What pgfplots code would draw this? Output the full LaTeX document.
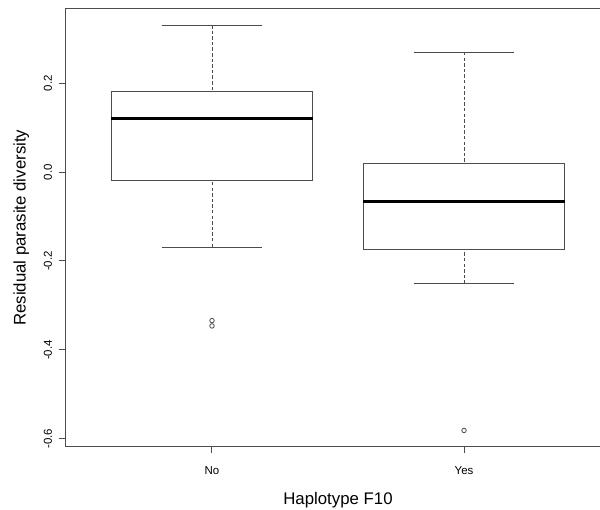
\documentclass[border=0pt]{standalone}
\usepackage{fontspec}
\setmainfont{Liberation Sans}
\usepackage{pgfplots}
\pgfplotsset{compat=1.18}
\usepgfplotslibrary{statistics}
\begin{document}
\begin{tikzpicture}
\useasboundingbox (-49.35pt,-47.5pt) rectangle (400.65pt,335pt);
\clip (-49.35pt,-47.5pt) rectangle (400.65pt,335pt);
\begin{axis}[
  at={(0pt,0pt)}, anchor=south west,
  scale only axis,
  width=408.3pt, height=328.35pt,
  xmin=0.42, xmax=2.58,
  ymin=-0.6175, ymax=0.367,
  axis line style={black!70, line width=0.75pt},
  every tick/.style={black!70, line width=0.75pt},
  tick align=outside,
  major tick length=4.8pt,
  xtick pos=bottom, ytick pos=left,
  xtick={1,2}, xticklabels={No,Yes},
  ytick={-0.6,-0.4,-0.2,0,0.2},
  /pgf/number format/assume math mode=true,
  ticklabel style={font=\fontsize{8.6}{10}\selectfont},
  yticklabel style={/pgf/number format/fixed, /pgf/number format/fixed zerofill,
    /pgf/number format/precision=1, rotate=90, anchor=base, inner sep=0pt},
  yticklabel shift=5.7pt,
  xticklabel style={anchor=base, inner sep=0pt},
  xticklabel shift=16.4pt,
  xlabel={Haplotype F10},
  ylabel={Residual parasite diversity},
  label style={font=\fontsize{12.6}{15}\selectfont},
  xlabel style={at={([yshift=-43.7pt]axis description cs:0.5,0)}, anchor=base, inner sep=0pt},
  ylabel style={at={([xshift=-30.2pt]axis description cs:0,0.5)}, anchor=base, inner sep=0pt},
  boxplot/draw direction=y,
  boxplot/box extend=0.8,
  boxplot/whisker extend=0.4,
  boxplot/every median/.style={black, line width=2pt},
  boxplot/draw/lower whisker/.code={%
    \draw[/pgfplots/boxplot/every whisker/.try, dash pattern=on 2.6pt off 1.6pt, line width=0.55pt]
      (boxplot cs:\pgfplotsboxplotvalue{lower whisker})
      -- (boxplot cs:\pgfplotsboxplotvalue{lower quartile});
    \draw[/pgfplots/boxplot/every whisker/.try, line width=0.7pt]
      (boxplot whisker cs:\pgfplotsboxplotvalue{lower whisker},0)
      -- (boxplot whisker cs:\pgfplotsboxplotvalue{lower whisker},1);
  },
  boxplot/draw/upper whisker/.code={%
    \draw[/pgfplots/boxplot/every whisker/.try, dash pattern=on 2.6pt off 1.6pt, line width=0.55pt]
      (boxplot cs:\pgfplotsboxplotvalue{upper whisker})
      -- (boxplot cs:\pgfplotsboxplotvalue{upper quartile});
    \draw[/pgfplots/boxplot/every whisker/.try, line width=0.7pt]
      (boxplot whisker cs:\pgfplotsboxplotvalue{upper whisker},0)
      -- (boxplot whisker cs:\pgfplotsboxplotvalue{upper whisker},1);
  },
]
\addplot[black!70, line width=0.7pt, mark=o, mark size=1.7pt,
  mark options={solid, line width=0.6pt},
  boxplot prepared={draw position=1,
    lower whisker=-0.1685, lower quartile=-0.0197,
    median=0.120, upper quartile=0.181, upper whisker=0.3305}]
  coordinates {(0,-0.334) (0,-0.346)};
\addplot[black!70, line width=0.7pt, mark=o, mark size=1.7pt,
  mark options={solid, line width=0.6pt},
  boxplot prepared={draw position=2,
    lower whisker=-0.2514, lower quartile=-0.173,
    median=-0.0668, upper quartile=0.0197, upper whisker=0.270}]
  coordinates {(0,-0.581)};
\end{axis}
\end{tikzpicture}
\end{document}
